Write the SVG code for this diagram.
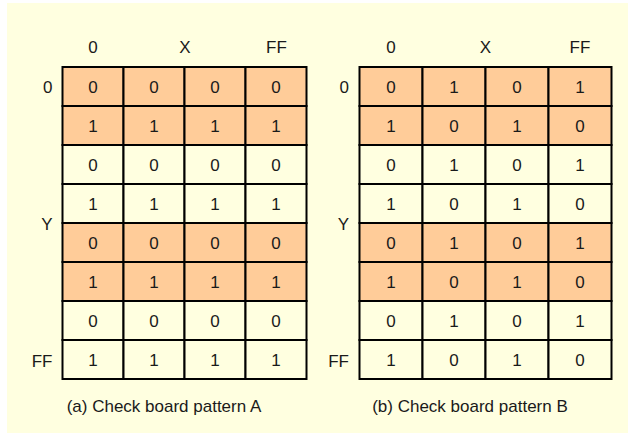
<svg xmlns="http://www.w3.org/2000/svg" width="632" height="439" viewBox="0 0 632 439">
<style>
.bg{fill:#FFFFE0}
.o{fill:#FFCC99;stroke:#000;stroke-width:2}
.l{fill:#FFFFE0;stroke:#000;stroke-width:2}
text{font-family:"Liberation Sans",Arial,sans-serif;font-size:17px;fill:#1a1a1a}
.c{text-anchor:middle}
.r{text-anchor:end}
.cap{font-size:17px;text-anchor:middle}
</style>
<rect class="bg" x="7" y="3" width="621" height="430"/>
<g id="gridA">
<g id="A-headers">
<text class="c" x="93" y="53">0</text>
<text class="c" x="185" y="53">X</text>
<text class="c" x="276.5" y="53">FF</text>
<text class="r" x="52.5" y="93">0</text>
<text class="r" x="52.5" y="229.5">Y</text>
<text class="r" x="52.5" y="366.5">FF</text>
</g>
<g id="A-r1"><rect class="o" x="62.5" y="67" width="61" height="39"/><rect class="o" x="123.5" y="67" width="61" height="39"/><rect class="o" x="184.5" y="67" width="61" height="39"/><rect class="o" x="245.5" y="67" width="61" height="39"/>
<text class="c" x="93" y="93">0</text><text class="c" x="154" y="93">0</text><text class="c" x="215" y="93">0</text><text class="c" x="276" y="93">0</text></g>
<g id="A-r2"><rect class="o" x="62.5" y="106" width="61" height="39"/><rect class="o" x="123.5" y="106" width="61" height="39"/><rect class="o" x="184.5" y="106" width="61" height="39"/><rect class="o" x="245.5" y="106" width="61" height="39"/>
<text class="c" x="93" y="132">1</text><text class="c" x="154" y="132">1</text><text class="c" x="215" y="132">1</text><text class="c" x="276" y="132">1</text></g>
<g id="A-r3"><rect class="l" x="62.5" y="145" width="61" height="39"/><rect class="l" x="123.5" y="145" width="61" height="39"/><rect class="l" x="184.5" y="145" width="61" height="39"/><rect class="l" x="245.5" y="145" width="61" height="39"/>
<text class="c" x="93" y="171">0</text><text class="c" x="154" y="171">0</text><text class="c" x="215" y="171">0</text><text class="c" x="276" y="171">0</text></g>
<g id="A-r4"><rect class="l" x="62.5" y="184" width="61" height="39"/><rect class="l" x="123.5" y="184" width="61" height="39"/><rect class="l" x="184.5" y="184" width="61" height="39"/><rect class="l" x="245.5" y="184" width="61" height="39"/>
<text class="c" x="93" y="210">1</text><text class="c" x="154" y="210">1</text><text class="c" x="215" y="210">1</text><text class="c" x="276" y="210">1</text></g>
<g id="A-r5"><rect class="o" x="62.5" y="223" width="61" height="39"/><rect class="o" x="123.5" y="223" width="61" height="39"/><rect class="o" x="184.5" y="223" width="61" height="39"/><rect class="o" x="245.5" y="223" width="61" height="39"/>
<text class="c" x="93" y="249">0</text><text class="c" x="154" y="249">0</text><text class="c" x="215" y="249">0</text><text class="c" x="276" y="249">0</text></g>
<g id="A-r6"><rect class="o" x="62.5" y="262" width="61" height="39"/><rect class="o" x="123.5" y="262" width="61" height="39"/><rect class="o" x="184.5" y="262" width="61" height="39"/><rect class="o" x="245.5" y="262" width="61" height="39"/>
<text class="c" x="93" y="288">1</text><text class="c" x="154" y="288">1</text><text class="c" x="215" y="288">1</text><text class="c" x="276" y="288">1</text></g>
<g id="A-r7"><rect class="l" x="62.5" y="301" width="61" height="39"/><rect class="l" x="123.5" y="301" width="61" height="39"/><rect class="l" x="184.5" y="301" width="61" height="39"/><rect class="l" x="245.5" y="301" width="61" height="39"/>
<text class="c" x="93" y="327">0</text><text class="c" x="154" y="327">0</text><text class="c" x="215" y="327">0</text><text class="c" x="276" y="327">0</text></g>
<g id="A-r8"><rect class="l" x="62.5" y="340" width="61" height="39"/><rect class="l" x="123.5" y="340" width="61" height="39"/><rect class="l" x="184.5" y="340" width="61" height="39"/><rect class="l" x="245.5" y="340" width="61" height="39"/>
<text class="c" x="93" y="366">1</text><text class="c" x="154" y="366">1</text><text class="c" x="215" y="366">1</text><text class="c" x="276" y="366">1</text></g>
<text id="A-caption" class="cap" x="164" y="412">(a) Check board pattern A</text>
</g>
<g id="gridB">
<g id="B-headers">
<text class="c" x="391" y="53">0</text>
<text class="c" x="485.5" y="53">X</text>
<text class="c" x="580" y="53">FF</text>
<text class="r" x="349" y="93">0</text>
<text class="r" x="349" y="229.5">Y</text>
<text class="r" x="349" y="366.5">FF</text>
</g>
<g id="B-r1"><rect class="o" x="359.5" y="67" width="63" height="39"/><rect class="o" x="422.5" y="67" width="63" height="39"/><rect class="o" x="485.5" y="67" width="63" height="39"/><rect class="o" x="548.5" y="67" width="63" height="39"/>
<text class="c" x="391" y="93">0</text><text class="c" x="454" y="93">1</text><text class="c" x="517" y="93">0</text><text class="c" x="580" y="93">1</text></g>
<g id="B-r2"><rect class="o" x="359.5" y="106" width="63" height="39"/><rect class="o" x="422.5" y="106" width="63" height="39"/><rect class="o" x="485.5" y="106" width="63" height="39"/><rect class="o" x="548.5" y="106" width="63" height="39"/>
<text class="c" x="391" y="132">1</text><text class="c" x="454" y="132">0</text><text class="c" x="517" y="132">1</text><text class="c" x="580" y="132">0</text></g>
<g id="B-r3"><rect class="l" x="359.5" y="145" width="63" height="39"/><rect class="l" x="422.5" y="145" width="63" height="39"/><rect class="l" x="485.5" y="145" width="63" height="39"/><rect class="l" x="548.5" y="145" width="63" height="39"/>
<text class="c" x="391" y="171">0</text><text class="c" x="454" y="171">1</text><text class="c" x="517" y="171">0</text><text class="c" x="580" y="171">1</text></g>
<g id="B-r4"><rect class="l" x="359.5" y="184" width="63" height="39"/><rect class="l" x="422.5" y="184" width="63" height="39"/><rect class="l" x="485.5" y="184" width="63" height="39"/><rect class="l" x="548.5" y="184" width="63" height="39"/>
<text class="c" x="391" y="210">1</text><text class="c" x="454" y="210">0</text><text class="c" x="517" y="210">1</text><text class="c" x="580" y="210">0</text></g>
<g id="B-r5"><rect class="o" x="359.5" y="223" width="63" height="39"/><rect class="o" x="422.5" y="223" width="63" height="39"/><rect class="o" x="485.5" y="223" width="63" height="39"/><rect class="o" x="548.5" y="223" width="63" height="39"/>
<text class="c" x="391" y="249">0</text><text class="c" x="454" y="249">1</text><text class="c" x="517" y="249">0</text><text class="c" x="580" y="249">1</text></g>
<g id="B-r6"><rect class="o" x="359.5" y="262" width="63" height="39"/><rect class="o" x="422.5" y="262" width="63" height="39"/><rect class="o" x="485.5" y="262" width="63" height="39"/><rect class="o" x="548.5" y="262" width="63" height="39"/>
<text class="c" x="391" y="288">1</text><text class="c" x="454" y="288">0</text><text class="c" x="517" y="288">1</text><text class="c" x="580" y="288">0</text></g>
<g id="B-r7"><rect class="l" x="359.5" y="301" width="63" height="39"/><rect class="l" x="422.5" y="301" width="63" height="39"/><rect class="l" x="485.5" y="301" width="63" height="39"/><rect class="l" x="548.5" y="301" width="63" height="39"/>
<text class="c" x="391" y="327">0</text><text class="c" x="454" y="327">1</text><text class="c" x="517" y="327">0</text><text class="c" x="580" y="327">1</text></g>
<g id="B-r8"><rect class="l" x="359.5" y="340" width="63" height="39"/><rect class="l" x="422.5" y="340" width="63" height="39"/><rect class="l" x="485.5" y="340" width="63" height="39"/><rect class="l" x="548.5" y="340" width="63" height="39"/>
<text class="c" x="391" y="366">1</text><text class="c" x="454" y="366">0</text><text class="c" x="517" y="366">1</text><text class="c" x="580" y="366">0</text></g>
<text id="B-caption" class="cap" x="470" y="412">(b) Check board pattern B</text>
</g>
</svg>
